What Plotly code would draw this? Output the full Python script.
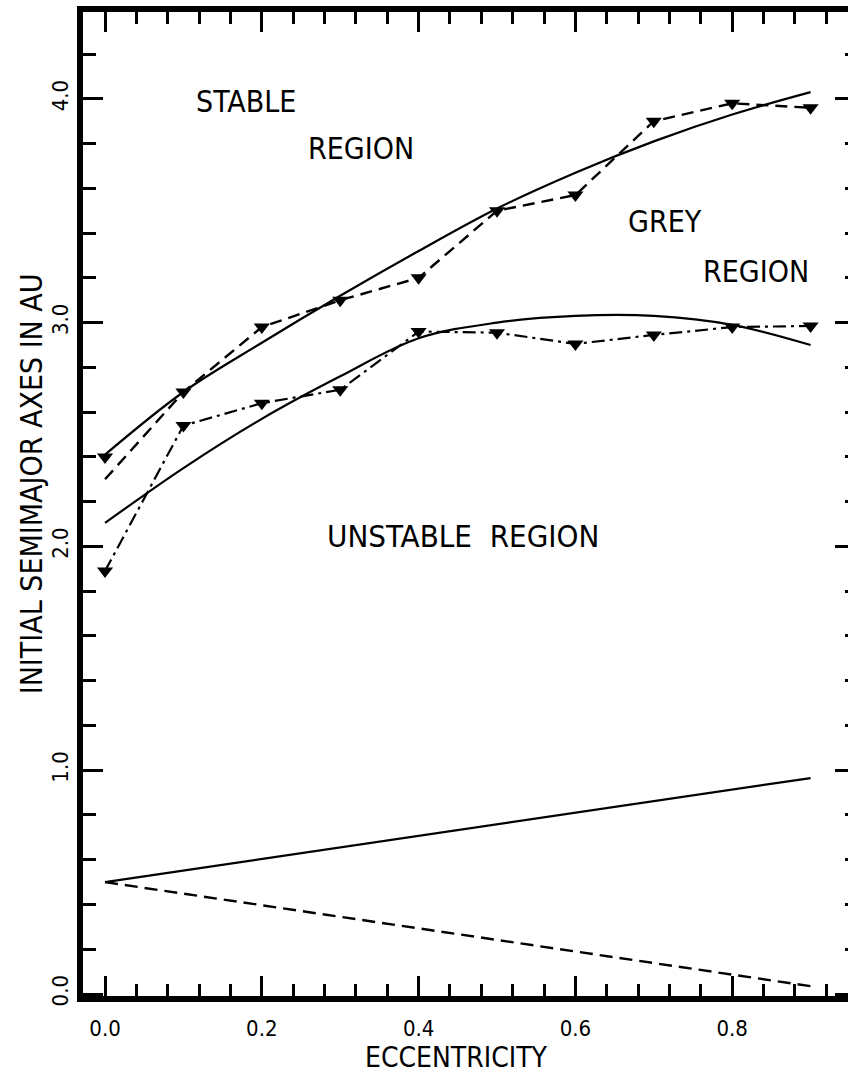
import plotly.graph_objects as go

# Eccentricity grid of the integrations
ecc = [0.0, 0.1, 0.2, 0.3, 0.4, 0.5, 0.6, 0.7, 0.8, 0.9]

# Upper boundary (dashed with triangles) and its smooth fit
upper_pts = [2.40, 2.69, 2.98, 3.10, 3.20, 3.50, 3.57, 3.90, 3.98, 3.96]
upper_line_start = 2.30
upper_fit = [2.41, 2.69, 2.91, 3.12, 3.32, 3.51, 3.67, 3.81, 3.93, 4.03]

# Lower boundary (dash-dot with triangles) and its smooth fit
lower_pts = [1.89, 2.54, 2.64, 2.70, 2.96, 2.955, 2.905, 2.945, 2.98, 2.985]
lower_fit = [2.105, 2.35, 2.57, 2.76, 2.93, 3.00, 3.03, 3.03, 2.99, 2.90]

# Aphelion / perihelion of the inner body
ecc_ends = [0.0, 0.9]
aphelion = [0.50, 0.965]
perihelion = [0.50, 0.035]

# Region labels
region_text = ["STABLE", "REGION", "GREY", "REGION", "UNSTABLE&nbsp;&nbsp;REGION"]
region_x = [0.18, 0.327, 0.714, 0.83, 0.457]
region_y = [3.99, 3.78, 3.453, 3.229, 2.047]
region_size = [30, 30, 30, 30, 31]

FONT = "DejaVu Sans Condensed, Roboto Condensed, Liberation Sans Narrow, DejaVu Sans, sans-serif"
BLACK = "black"

fig = go.Figure()

fig.add_trace(go.Scatter(x=ecc, y=upper_fit, mode="lines", line=dict(color=BLACK, width=2.2, shape="spline")))
fig.add_trace(go.Scatter(x=ecc, y=lower_fit, mode="lines", line=dict(color=BLACK, width=2.2, shape="spline")))

fig.add_trace(go.Scatter(x=ecc, y=[upper_line_start] + upper_pts[1:], mode="lines",
                         line=dict(color=BLACK, width=2.4, dash="12px,7px")))
fig.add_trace(go.Scatter(x=ecc, y=upper_pts, mode="markers",
                         marker=dict(symbol="triangle-down", size=14, color=BLACK)))

fig.add_trace(go.Scatter(x=ecc, y=lower_pts, mode="lines+markers",
                         line=dict(color=BLACK, width=2.2, dash="13px,5px,3px,5px"),
                         marker=dict(symbol="triangle-down", size=14, color=BLACK)))

fig.add_trace(go.Scatter(x=ecc_ends, y=aphelion, mode="lines", line=dict(color=BLACK, width=2.2)))
fig.add_trace(go.Scatter(x=ecc_ends, y=perihelion, mode="lines",
                         line=dict(color=BLACK, width=2.4, dash="13px,7px")))

# empty trace that carries the right-hand tick axis
fig.add_trace(go.Scatter(x=[], y=[], yaxis="y2", showlegend=False))

for t, xv, yv, sz in zip(region_text, region_x, region_y, region_size):
    fig.add_annotation(x=xv, y=yv, xref="x", yref="y", text=t, showarrow=False,
                       font=dict(family=FONT, size=sz, color=BLACK))

fig.add_annotation(x=0.4876, y=-0.062, xref="paper", yref="paper", text="ECCENTRICITY",
                   showarrow=False, font=dict(family=FONT, size=28, color=BLACK),
                   xanchor="center", yanchor="middle")
fig.add_annotation(x=-0.068, y=0.521, xref="paper", yref="paper", text="INITIAL SEMIMAJOR AXES IN AU",
                   showarrow=False, textangle=-90, font=dict(family=FONT, size=30, color=BLACK),
                   xanchor="center", yanchor="middle")

tickfont = dict(family=FONT, size=22, color=BLACK)
y_range = [-0.0089, 4.388]

fig.update_layout(
    width=848, height=1075,
    margin=dict(l=83, r=0, t=12, b=79),
    paper_bgcolor="white", plot_bgcolor="white",
    showlegend=False,
    xaxis=dict(range=[-0.0281, 0.9477], showline=True, linewidth=6, linecolor=BLACK,
               mirror="ticks", ticks="inside", ticklen=20, tickwidth=2.5, tickcolor=BLACK,
               tick0=0, dtick=0.2, tickformat=".1f", tickfont=tickfont,
               minor=dict(tick0=0, dtick=0.04, ticks="inside", ticklen=12, tickwidth=2.5, tickcolor=BLACK),
               showgrid=False, zeroline=False, ticklabelstandoff=8),
    yaxis=dict(range=y_range, showline=True, linewidth=6, linecolor=BLACK,
               ticks="inside", ticklen=20, tickwidth=2.5, tickcolor=BLACK,
               tick0=0, dtick=1, tickformat=".1f", tickangle=-90, tickfont=tickfont,
               minor=dict(tick0=0, dtick=0.2, ticks="inside", ticklen=13, tickwidth=2.5, tickcolor=BLACK),
               showgrid=False, zeroline=False),
    yaxis2=dict(range=y_range, overlaying="y", side="right", anchor="x", showline=False,
                ticks="inside", ticklen=13, tickwidth=2.5, tickcolor=BLACK, tick0=0, dtick=1,
                showticklabels=False,
                minor=dict(tick0=0, dtick=0.2, ticks="inside", ticklen=3, tickwidth=2.5, tickcolor=BLACK),
                showgrid=False, zeroline=False),
)

fig.write_html("out.html")
